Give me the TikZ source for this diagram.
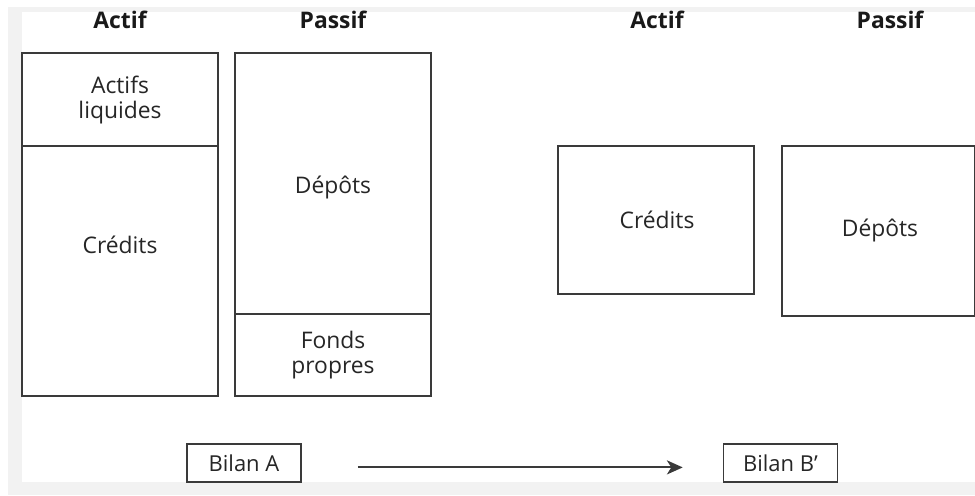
\documentclass[tikz,border=0pt]{standalone}
\usepackage{fontspec}
\setmainfont{Open Sans}
\usetikzlibrary{arrows.meta}

\definecolor{trait}{HTML}{3A3A3A}
\definecolor{fond}{HTML}{F2F2F2}

\tikzset{
    poste/.style={text=black!85, font=\fontsize{13}{14.2}\selectfont, align=center},
    titre/.style={text=black!90, font=\fontsize{13}{14.2}\selectfont\bfseries},
    bilan/.style={draw=trait, line width=0.9pt, text=black!85, font=\fontsize{12.5}{14.2}\selectfont,
        minimum width=2.28cm, minimum height=0.76cm, inner sep=0pt}
}

\begin{document}
\begin{tikzpicture}[x=0.02cm, y=-0.02cm]
            \useasboundingbox (0,0) rectangle (975,495);
            \fill[fond] (8,7) rectangle (975,495);
            \fill[white] (22,12) rectangle (975,482);

            % Bilan A
            \node[titre] (actifA) at (120,20) {Actif};
            \node[titre] (passifA) at (333,20) {Passif};
            \draw[trait, line width=0.9pt] (22,53) rectangle (218,396);
            \draw[trait, line width=1.3pt] (22,146) -- (218,146);
            \draw[trait, line width=0.9pt] (235,53) rectangle (431,396);
            \draw[trait, line width=1.3pt] (235,314) -- (431,314);
            \node[poste] (liquides) at (120,100) {Actifs\\liquides};
            \node[poste] (creditsA) at (120,245) {Crédits};
            \node[poste] (depotsA) at (333,187) {Dépôts};
            \node[poste] (fonds) at (333,355) {Fonds\\propres};

            % Bilan B'
            \node[titre] (actifB) at (657,20) {Actif};
            \node[titre] (passifB) at (890,20) {Passif};
            \draw[trait, line width=0.9pt] (558,146) rectangle (754,294);
            \draw[trait, line width=0.9pt] (782,146) rectangle (975,316);
            \node[poste] (creditsB) at (657,220) {Crédits};
            \node[poste] (depotsB) at (880,230) {Dépôts};

            % Passage
            \node[bilan] (bilanA) at (244,463) {Bilan A};
            \node[bilan] (bilanB) at (780.5,463) {Bilan B’};
            \draw[trait, line width=1.1pt, -{Stealth[length=9pt, width=8pt, inset=2.5pt]}, shorten <=1.12cm, shorten >=0.8cm]
                ([yshift=-2.5pt]bilanA.east) -- ([yshift=-2.5pt]bilanB.west);
\end{tikzpicture}
\end{document}
